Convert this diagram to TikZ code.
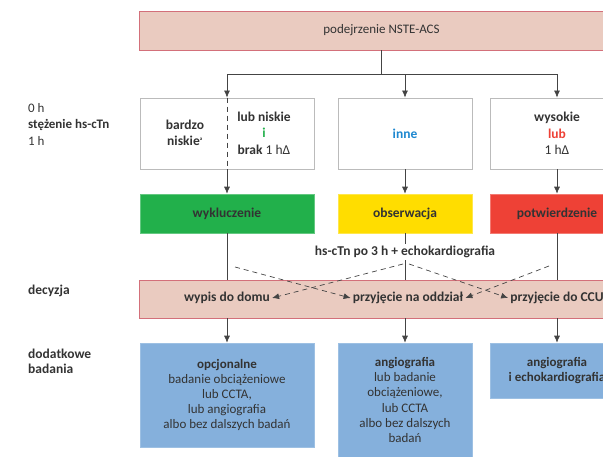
\documentclass[tikz,border=0pt]{standalone}
\usepackage{fontspec}
\setmainfont{Carlito}
\usepackage{xcolor}
\usetikzlibrary{arrows.meta,positioning}

\definecolor{txt}{HTML}{333333}
\definecolor{linegray}{HTML}{444444}
\definecolor{boxgray}{HTML}{BBBBBB}
\definecolor{pinkfill}{HTML}{EACBC0}
\definecolor{pinkline}{HTML}{D3707A}
\definecolor{okgreen}{HTML}{22B04B}
\definecolor{midyellow}{HTML}{FFDD00}
\definecolor{badred}{HTML}{EE4136}
\definecolor{inneblue}{HTML}{1E88D0}
\definecolor{testblue}{HTML}{85B0DC}

\newcommand{\rfont}{\fontsize{13}{16.5}\selectfont}
\newcommand{\bfont}{\fontsize{13.5}{16.5}\selectfont\bfseries}

\tikzset{
  txtstyle/.style={text=txt, font=\rfont, align=center, inner sep=2pt},
  boldtxt/.style={txtstyle, font=\bfont},
  whitebox/.style={txtstyle, draw=boxgray, line width=0.8pt, fill=white, minimum width=134pt, minimum height=71pt},
  colbox/.style={boldtxt, line width=0.6pt, minimum width=134pt, minimum height=39pt},
  pinkbox/.style={txtstyle, draw=pinkline, line width=0.8pt, fill=pinkfill, minimum width=485pt},
  bluebox/.style={txtstyle, font=\fontsize{13}{15.2}\selectfont, draw=testblue!80!white, line width=0.6pt, fill=testblue, minimum width=134pt},
  arr/.style={draw=linegray, line width=0.7pt, -{Latex[length=7pt,width=6pt]}},
  plain/.style={draw=linegray, line width=0.7pt},
  dasharr/.style={arr, dash pattern=on 5pt off 4pt},
}

\begin{document}
\begin{tikzpicture}[x=1pt, y=-1pt]
    \useasboundingbox (0,0) rectangle (603,457);
    \clip (0,0) rectangle (603,457);

    % left-hand labels
    \node[txtstyle, anchor=west, align=left] (lbltime) at (26,124) {0 h\\\textbf{stężenie hs-cTn}\\1 h};
    \node[boldtxt, anchor=west] (lbldec) at (26,291) {decyzja};
    \node[boldtxt, anchor=west, align=left, font=\fontsize{13.5}{15.2}\selectfont\bfseries] (lbltest) at (26,361) {dodatkowe\\badania};

    \node[pinkbox, minimum height=39pt] (top) at (381.5,30.5) {podejrzenie NSTE-ACS};
    \coordinate (split) at (381.5,74);

    % hs-cTn results
    \node[whitebox, minimum width=174pt] (low) at (227,133.5) {};
    \node[boldtxt] (lowa) at (185,133) {bardzo\\niskie\textsuperscript{\tiny a}};
    \node[boldtxt] (lowb) at (264,133) {lub niskie\\\textcolor{okgreen}{i}\\brak \textmd{1 hΔ}};
    \node[whitebox, font=\bfont, text=inneblue] (mid) at (405,133.5) {inne};
    \node[whitebox, font=\bfont] (high) at (557,133.5) {wysokie\\\textcolor{badred}{lub}\\\textmd{1 hΔ}};

    \node[colbox, minimum width=174pt, fill=okgreen, draw=okgreen!70!white] (excl) at (227,213.5) {wykluczenie};
    \node[colbox, fill=midyellow, draw=midyellow!70!white] (obs) at (405,213.5) {obserwacja};
    \node[colbox, fill=badred, draw=badred!70!white] (conf) at (557,213.5) {potwierdzenie};

    \node[boldtxt] (echo) at (405,252) {hs-cTn po 3 h + echokardiografia};

    \node[pinkbox, minimum height=38pt] (dec) at (381.5,299) {};
    \node[boldtxt] (home) at (227,298) {wypis do domu};
    \node[boldtxt] (ward) at (408,298) {przyjęcie na oddział};
    \node[boldtxt] (ccu) at (557,298) {przyjęcie do CCU};

    % further tests
    \node[bluebox, minimum width=174pt, minimum height=104pt] (opt) at (227,395)
        {\textbf{opcjonalne}\\badanie obciążeniowe\\lub CCTA,\\lub angiografia\\albo bez dalszych badań};
    \node[bluebox, minimum height=114pt] (ang) at (405,400)
        {\textbf{angiografia}\\lub badanie\\obciążeniowe,\\lub CCTA\\albo bez dalszych\\badań};
    \node[bluebox, minimum height=55pt] (angecho) at (557,370.5)
        {\textbf{angiografia}\\\textbf{i echokardiografia}};

    % connectors
    \draw[plain] (top.south) -- (split);
    \draw[arr] (split) -| (low.north);
    \draw[arr] (split) -| (mid.north);
    \draw[arr] (split) -| (high.north);
    \draw[plain, dash pattern=on 5pt off 4pt] (low.north) -- (low.south);

    \draw[arr] (low.south) -- (excl.north);
    \draw[arr] (mid.south) -- (obs.north);
    \draw[arr] (high.south) -- (conf.north);

    \draw[plain] (excl.south) -- (excl.south |- dec.north);
    \draw[plain] (obs.south) -- (echo.north);
    \draw[plain] (echo.south) -- (echo.south |- dec.north);
    \draw[plain] (conf.south) -- (conf.south |- dec.north);

    \coordinate (d1) at (235,267);
    \coordinate (d2) at (403,264);
    \coordinate (d3) at (409,264);
    \coordinate (d4) at (549,266);
    \draw[dasharr] (d1) -- (ward.west);
    \draw[dasharr] (d2) -- (home.east);
    \draw[dasharr] (d3) -- (ccu.west);
    \draw[dasharr] (d4) -- (ward.east);

    \draw[arr] (excl.south |- dec.south) -- (opt.north);
    \draw[arr] (obs.south |- dec.south) -- (ang.north);
    \draw[arr] (conf.south |- dec.south) -- (angecho.north);
\end{tikzpicture}
\end{document}
